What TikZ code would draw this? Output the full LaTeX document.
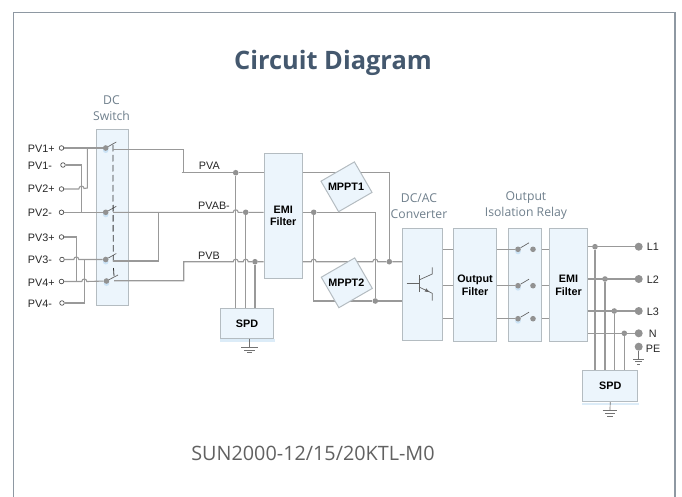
\documentclass[tikz,border=0pt]{standalone}
\usepackage{fontspec}
\setmainfont{Liberation Sans}
\newfontfamily\headfont{Open Sans}
\usepackage{xcolor}
\definecolor{boxfill}{HTML}{ECF5FC}
\definecolor{boxline}{HTML}{B4BCC1}
\definecolor{wirecol}{HTML}{999999}
\definecolor{dotcol}{HTML}{929292}
\definecolor{capcol}{HTML}{6F7F8C}
\definecolor{framecol}{HTML}{8E98A2}
\definecolor{titlecol}{HTML}{44586E}
\definecolor{barcol}{HTML}{DCECF8}
\definecolor{glowcol}{HTML}{CBE3F6}
\begin{document}
\begin{tikzpicture}[x=1pt, y=-1pt,
    box/.style = {draw=boxline, fill=boxfill, line width=1pt, inner sep=0pt, align=center, font=\fontsize{10.8}{12.8}\selectfont\bfseries},
    wire/.style = {draw=wirecol, line width=1.1pt},
    hop/.style = {out=90, in=90, looseness=1.7},
    dot/.style = {circle, fill=dotcol, inner sep=0pt, minimum size=5.6pt},
    swdot/.style = {dot, preaction={fill=glowcol, transform canvas={yshift=-2.2pt}}},
    bigdot/.style = {circle, fill=dotcol, inner sep=0pt, minimum size=8pt},
    term/.style = {circle, draw=black!70, fill=white, line width=.7pt, inner sep=0pt, minimum size=4.6pt},
    lab/.style = {inner sep=0pt, font=\fontsize{10.8}{13}\selectfont, text=black!85},
    captext/.style = {inner sep=0pt, align=center, font=\headfont\fontsize{12.2}{16}\selectfont, text=capcol},
    bladeln/.style = {draw=black!60, line width=.7pt},
    gnd/.style = {draw=black!55, line width=.7pt}]
    \useasboundingbox (0,0) rectangle (682,497);
    \draw[draw=framecol, line width=1.4pt] (13.5,497) -- (13.5,12.5) -- (675,12.5) -- (675,497);
    \node[inner sep=0pt, font=\headfont\fontsize{25.4}{30}\selectfont\bfseries, text=titlecol] (title) at (333,63) {Circuit Diagram};
    \node[inner sep=0pt, font=\headfont\fontsize{19.8}{24}\selectfont, text=black!62] (model) at (313,453) {SUN2000-12/15/20KTL-M0};

    % captions
    \node[captext] (capdc) at (111.5,108) {DC\\Switch};
    \node[captext] (capconv) at (419,205.7) {DC/AC\\Converter};
    \node[captext] (caprelay) at (526,205.7) {Output\\Isolation Relay};

    % blocks
    \node[box, minimum width=32.2pt, minimum height=176.7pt] (dcsw) at (112.6,217.6) {};
    \node[box, minimum width=38.3pt, minimum height=125pt] (emia) at (283.2,215.8) {EMI\\Filter};
    \node[box, minimum width=52.6pt, minimum height=30pt] (spda) at (247,323.3) {SPD};
    \node[box, minimum width=39.6pt, minimum height=112.4pt] (conv) at (422.5,284.5) {};
    \node[box, minimum width=43.4pt, minimum height=113.4pt] (filt) at (475,285) {Output\\Filter};
    \node[box, minimum width=33pt, minimum height=113.4pt] (relay) at (525.2,285) {};
    \node[box, minimum width=38.4pt, minimum height=113.4pt] (emib) at (568.5,285) {EMI\\Filter};
    \node[box, minimum width=55pt, minimum height=31pt] (spdb) at (610.2,386.2) {SPD};
    \fill[barcol] ([yshift=-.5pt]spda.south west) rectangle ([shift={(1,3)}]spda.south east);
    \fill[barcol] ([yshift=-.5pt]spdb.south west) rectangle ([shift={(1,3)}]spdb.south east);

    % input terminals
    \node[term] (t1p) at (61.5,148) {};
    \node[term] (t1n) at (63,165) {};
    \node[term] (t2p) at (61.5,189) {};
    \node[term] (t2n) at (61.5,212.3) {};
    \node[term] (t3p) at (61.5,237) {};
    \node[term] (t3n) at (62,259.5) {};
    \node[term] (t4p) at (61.5,281.5) {};
    \node[term] (t4n) at (62,303) {};
    \node[lab, anchor=west] (l1p) at (27.7,148.3) {PV1+};
    \node[lab, anchor=west] (l1n) at (27.7,165.3) {PV1-};
    \node[lab, anchor=west] (l2p) at (27.7,189) {PV2+};
    \node[lab, anchor=west] (l2n) at (27.7,212.3) {PV2-};
    \node[lab, anchor=west] (l3p) at (27.7,237.3) {PV3+};
    \node[lab, anchor=west] (l3n) at (27.7,259.3) {PV3-};
    \node[lab, anchor=west] (l4p) at (27.7,283) {PV4+};
    \node[lab, anchor=west] (l4n) at (27.7,304) {PV4-};

    % dc switch
    \node[swdot] (swa) at (105.7,148) {};
    \node[swdot] (swb) at (105.7,212.3) {};
    \node[swdot] (swc) at (105.7,259.5) {};
    \node[swdot] (swd) at (106.5,281) {};
    \coordinate (conta) at (113,149.3);
    \coordinate (contb) at (113,212.3);
    \coordinate (contc) at (113,261);
    \coordinate (contd) at (114,280.7);
    \coordinate (ja) at (87.3,148);
    \coordinate (jb) at (81.3,212.3);
    \coordinate (jc) at (76.3,281.5);
    \coordinate (jd) at (84.3,259.5);
    \draw[wire] (t1p) -- (swa);
    \draw[wire] (t2n) -- (swb);
    \draw[wire] (ja) -- (87.3,188) -- (84,188.5) to [hop] (78.8,189) -- (t2p);
    \draw[wire] (t1n) -| (jb);
    \draw[wire] (t3p) -| (jc);
    \draw[wire] (t3n) -- (73.8,259.5) to [hop] (78.8,259.5) -- (swc);
    \draw[wire] (jd) |- (t4n);
    \draw[wire] (t4p) -- (81.8,281.5) to [hop] (86.8,281.5) -- (swd);
    \draw[bladeln] (swa) -- (116.3,142);
    \draw[bladeln] (swb) -- (116.3,206.3);
    \draw[bladeln] (swc) -- (116.3,253.5);
    \draw[bladeln] (swd) -- (118,275);
    \draw[draw=black!80, line width=.8pt, dash pattern=on 6.5pt off 3.5pt] (113,145) -- (113.2,263);
    \draw[draw=black!80, line width=.8pt] (113.5,268) -- (114,276);

    % pv buses
    \node[dot] (dpa) at (235.7,172.7) {};
    \node[dot] (dpb) at (245.7,212.3) {};
    \node[dot] (dpc) at (255,261.7) {};
    \coordinate (ka) at (183.7,172.7);
    \coordinate (kc) at (158.7,212.3);
    \coordinate (kd) at (183.7,261.7);
    \draw[wire] (conta) -| (ka);
    \draw[wire] (181.7,172.7) -- (dpa) -- (dpa -| emia.west);
    \draw[wire] (contb) -- (233.2,212.3) to [hop] (238.2,212.3) -- (dpb) -- (dpb -| emia.west);
    \draw[wire] (contc) -| (kc);
    \draw[wire] (contd) -| (kd) -- (233.2,261.7) to [hop] (238.2,261.7) -- (243.2,261.7) to [hop] (248.2,261.7) -- (dpc) -- (dpc -| emia.west);
    \draw[wire] (dpa) -- (dpa |- spda.north);
    \draw[wire] (dpb) -- (dpb |- spda.north);
    \draw[wire] (dpc) -- (dpc |- spda.north);
    \node[lab, anchor=west] (lpva) at (198.7,166) {PVA};
    \node[lab, anchor=west] (lpvab) at (198,205.3) {PVAB-};
    \node[lab, anchor=west] (lpvb) at (198,256) {PVB};

    % mppt
    \node[dot] (dq) at (389.3,261.7) {};
    \node[dot] (dr) at (313.7,212.3) {};
    \node[dot] (ds) at (375.3,301) {};
    \draw[wire] (emia.east |- dpa) -| (dq);
    \draw[wire] (emia.east |- dq) -- (311.2,261.7) to [hop] (316.2,261.7) -- (372.8,261.7) to [hop] (377.8,261.7) -- (dq) -- (dq -| conv.west);
    \draw[wire] (emia.east |- dr) -- (dr) -| (ds);
    \draw[wire] (dr) |- (ds) -- (ds -| conv.west);
    \node[box, rotate=30, minimum width=38.6pt, minimum height=35.2pt] (mppta) at (346.5,186.8) {};
    \node[box, rotate=30, minimum width=38.6pt, minimum height=35.2pt] (mpptb) at (346.8,282.8) {};
    \node[box, draw=none, fill=none] (mppttexta) at (346,186.7) {MPPT1};
    \node[box, draw=none, fill=none] (mppttextb) at (346.3,282.3) {MPPT2};

    % transistor
    \draw[bladeln] (406.7,283.3) -- (419,283.3);
    \draw[bladeln] (419,275) -- (419,291.7);
    \draw[bladeln] (419,280) -- (432.3,274) -- (432.3,267.3);
    \draw[bladeln] (419,287) -- (432.3,293.3) -- (432.3,300.7);
    \fill[black!60] (429.5,292) -- (424.6,291.6) -- (426.2,288.4) -- cycle;

    % relay
    \node[swdot] (rla) at (518,249.3) {};
    \node[swdot] (rlb) at (518,285.7) {};
    \node[swdot] (rlc) at (518,318.7) {};
    \node[dot] (cla) at (533,249.3) {};
    \node[dot] (clb) at (533,285.7) {};
    \node[dot] (clc) at (533,318.7) {};
    \draw[wire] (conv.east |- rla) -- (filt.west |- rla);
    \draw[wire] (conv.east |- rlb) -- (filt.west |- rlb);
    \draw[wire] (conv.east |- rlc) -- (filt.west |- rlc);
    \draw[wire] (filt.east |- rla) -- (rla);
    \draw[wire] (filt.east |- rlb) -- (rlb);
    \draw[wire] (filt.east |- rlc) -- (rlc);
    \draw[bladeln] (rla) -- (529,242.8);
    \draw[bladeln] (rlb) -- (529,279.2);
    \draw[bladeln] (rlc) -- (529,312.2);
    \draw[wire] (relay.east |- cla) -- (emib.west |- cla);
    \draw[wire] (relay.east |- clb) -- (emib.west |- clb);
    \draw[wire] (relay.east |- clc) -- (emib.west |- clc);

    % output
    \node[bigdot] (tl1) at (638.7,246.7) {};
    \node[bigdot] (tl2) at (638.7,279) {};
    \node[bigdot] (tl3) at (638.7,311) {};
    \node[bigdot] (tn) at (638.7,333.3) {};
    \node[bigdot] (tpe) at (638.7,346.7) {};
    \node[dot] (dl1) at (595,246.7) {};
    \node[dot] (dl2) at (605,279) {};
    \node[dot] (dl3) at (614.3,311) {};
    \node[dot] (dn) at (624.3,333.3) {};
    \draw[wire] (emib.east |- tl1) -- (tl1);
    \draw[wire] (emib.east |- tl2) -- (tl2);
    \draw[wire] (emib.east |- tl3) -- (tl3);
    \draw[wire] (emib.east |- tn) -- (tn);
    \draw[wire] (dl1) -- (dl1 |- spdb.north);
    \draw[wire] (dl2) -- (dl2 |- spdb.north);
    \draw[wire] (dl3) -- (dl3 |- spdb.north);
    \draw[wire] (dn) -- (dn |- spdb.north);
    \node[lab, anchor=west] (ll1) at (646.7,247) {L1};
    \node[lab, anchor=west] (ll2) at (646.7,280) {L2};
    \node[lab, anchor=west] (ll3) at (646.7,312) {L3};
    \node[lab, anchor=west] (ln) at (648.7,334) {N};
    \node[lab, anchor=west] (lpe) at (645.7,348.5) {PE};

    % grounds
    \draw[gnd] (249.3,0 |- spda.south) -- (249.3,347);
    \draw[gnd] (241.3,347) -- (257.7,347);
    \draw[gnd] (244,350) -- (255,350);
    \draw[gnd] (247,352.7) -- (252,352.7);
    \draw[gnd] (spdb.south) -- (610,410.7);
    \draw[gnd] (602.7,410.7) -- (617.3,410.7);
    \draw[gnd] (605,413.3) -- (615,413.3);
    \draw[gnd] (607.3,416) -- (612.7,416);
    \draw[gnd] (tpe) -- (638.7,359);
    \draw[gnd] (633.3,359) -- (644,359);
    \draw[gnd] (635,361.7) -- (642.4,361.7);
    \draw[gnd] (637,364) -- (640.4,364);
\end{tikzpicture}
\end{document}
